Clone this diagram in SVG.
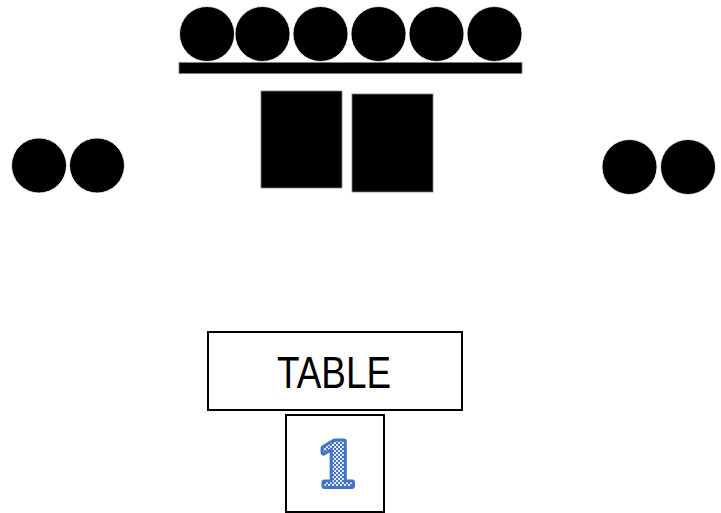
<svg xmlns="http://www.w3.org/2000/svg" width="721" height="513" viewBox="0 0 721 513">
  <style>
    .seat { fill: #000; stroke: #fff; stroke-width: 0.8; }
    .blk { fill: #000; stroke: #7f7f7f; stroke-width: 0.8; }
    .box { fill: #fff; stroke: #000; stroke-width: 2; }
    .lbl { font-family: "Liberation Sans", Arial, sans-serif; font-size: 44px; fill: #000; }
  </style>
  <defs>
    <pattern id="chk" width="4" height="4" patternUnits="userSpaceOnUse">
      <rect width="4" height="4" fill="#4472C4"/>
      <rect width="2" height="2" fill="#e3ebf7"/>
      <rect x="2" y="2" width="2" height="2" fill="#e3ebf7"/>
    </pattern>
  </defs>
  <rect width="721" height="513" fill="#fff"/>
  <g id="top-seats">
    <circle class="seat" cx="207" cy="34" r="27.5"/>
    <circle class="seat" cx="262.5" cy="34" r="27.5"/>
    <circle class="seat" cx="320.5" cy="34" r="27.5"/>
    <circle class="seat" cx="378.5" cy="34" r="27.5"/>
    <circle class="seat" cx="436.5" cy="34" r="27.5"/>
    <circle class="seat" cx="494.5" cy="34" r="27.5"/>
  </g>
  <g id="bar">
    <rect class="blk" x="179" y="62.5" width="343" height="11"/>
  </g>
  <g id="block-1">
    <rect class="blk" x="261" y="91" width="81" height="97"/>
  </g>
  <g id="block-2">
    <rect class="blk" x="352" y="94" width="81" height="98"/>
  </g>
  <g id="left-seats">
    <circle class="seat" cx="39" cy="165.5" r="27.5"/>
    <circle class="seat" cx="97" cy="165.5" r="27.5"/>
  </g>
  <g id="right-seats">
    <circle class="seat" cx="629.5" cy="167" r="27.5"/>
    <circle class="seat" cx="688" cy="167" r="27.5"/>
  </g>
  <g id="table">
    <rect class="box" x="208" y="332" width="254" height="78"/>
    <text class="lbl" x="334" y="388" text-anchor="middle" textLength="114" lengthAdjust="spacingAndGlyphs">TABLE</text>
  </g>
  <g id="number-box">
    <rect class="box" x="286" y="415" width="98" height="97"/>
    <text x="337" y="486" text-anchor="middle" font-family="DejaVu Serif, serif" font-weight="bold" font-size="60" fill="url(#chk)" stroke="#4472C4" stroke-width="6" stroke-linejoin="round" paint-order="stroke">1</text>
  </g>
</svg>
